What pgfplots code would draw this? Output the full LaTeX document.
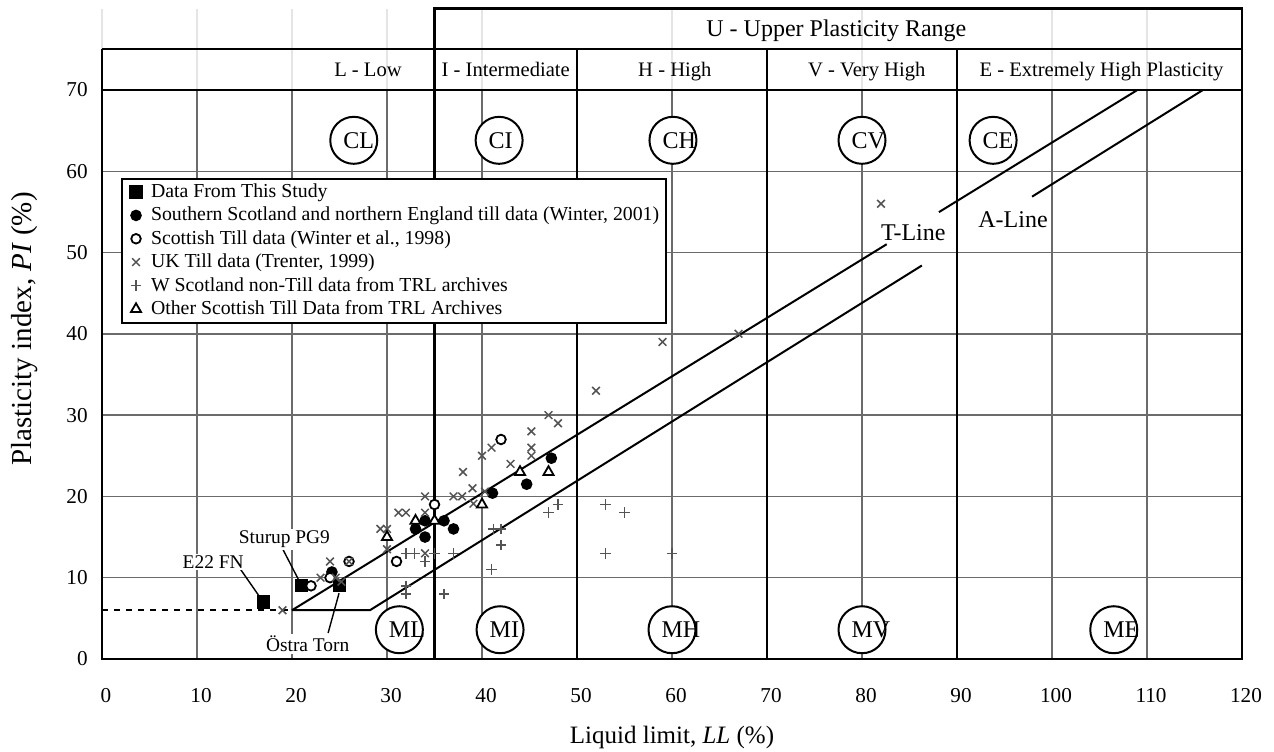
\documentclass[border=0pt]{standalone}
\usepackage{fontspec}
\setmainfont{Liberation Serif}
\usepackage{pgfplots}
\pgfplotsset{compat=1.18}
\definecolor{gridc}{gray}{0.42}
\definecolor{markc}{gray}{0.33}
\pgfplotsset{
 lgimg/.style={legend image code/.code={\path[draw=none, fill=none] (-4pt,0pt) -- (7pt,0pt); \draw[##1, only marks] plot coordinates {(0pt,0pt)};}},
 sq/.style={only marks, mark=square*, mark size=3pt, black, line width=0.6pt, lgimg},
 fc/.style={only marks, mark=*, mark size=2.6pt, black, line width=0.6pt, lgimg},
 oc/.style={only marks, mark=*, mark size=2.4pt, black, line width=0.9pt, mark options={fill=white, draw=black}, lgimg},
 xm/.style={only marks, mark=x, mark size=2.7pt, markc, line width=0.75pt, lgimg},
 pm/.style={only marks, mark=+, mark size=2.6pt, markc, line width=0.75pt, lgimg},
 tm/.style={only marks, mark=triangle*, mark size=2.9pt, black, line width=0.9pt, mark options={fill=white, draw=black}, lgimg},
}
\newcommand{\cls}[3]{%
 \draw[black, line width=1pt, fill=white] (axis cs:#1,#2) circle[radius=11.75pt];
 \node[anchor=base west, inner sep=0pt, xshift=-5.4pt, yshift=-3.95pt, font=\fontsize{12}{14}\selectfont] at (axis cs:#1,#2) {#3};}
\begin{document}
\begin{tikzpicture}
\begin{axis}[
 scale only axis, width=570pt, height=325.2pt,
 xmin=0, xmax=120, ymin=0, ymax=80,
 clip=false,
 axis line style={draw=none},
 xtick={0,10,...,120}, ytick={0,10,...,70},
 major tick length=0pt,
 /pgf/number format/assume math mode=true,
 ticklabel style={font=\fontsize{10.6}{12}\selectfont},
 xticklabel style={anchor=north, inner sep=0pt, yshift=-14.5pt, xshift=2pt},
 yticklabel style={anchor=east, inner sep=0pt, xshift=-7pt},
 legend style={at={(axis cs:2,59.2)}, anchor=north west, draw=black, line width=1pt, fill=white,
   font=\fontsize{9.9}{11}\selectfont, inner xsep=3pt, inner ysep=2pt, row sep=2.3pt,
   nodes={inner sep=0.5pt}, cells={anchor=west}},
]
% bounding box helpers
\coordinate (BBLL) at (axis cs:-10.74,-11.32);
\coordinate (BBUR) at (axis cs:123.37,81.06);
% faint header grid
\pgfplotsinvokeforeach{0,10,20,30,40,60,80,100,110}{\draw[black!10, line width=0.6pt] (axis cs:#1,70) -- (axis cs:#1,80);}
% grid
\pgfplotsinvokeforeach{10,20,30,40,60,80,100,110}{\draw[gridc, line width=0.7pt] (axis cs:#1,0) -- (axis cs:#1,70);}
\pgfplotsinvokeforeach{10,20,30,40,50,60}{\draw[gridc, line width=0.7pt] (axis cs:0,#1) -- (axis cs:120,#1);}
% frame
\draw[black, line width=1.2pt] (axis cs:0,75) -- (axis cs:0,0) -- (axis cs:120,0) -- (axis cs:120,80) -- (axis cs:35,80) -- (axis cs:35,0);
\draw[black, line width=1.1pt] (axis cs:0,70) -- (axis cs:120,70);
\draw[black, line width=1.1pt] (axis cs:0,75) -- (axis cs:120,75);
\pgfplotsinvokeforeach{50,70,90}{\draw[black, line width=1.2pt] (axis cs:#1,0) -- (axis cs:#1,75);}
% header labels
\node[anchor=base, font=\fontsize{10.3}{12}\selectfont] at (axis cs:28,71.7) {L - Low};
\node[anchor=base, font=\fontsize{10.3}{12}\selectfont] at (axis cs:42.5,71.7) {I - Intermediate};
\node[anchor=base, font=\fontsize{10.3}{12}\selectfont] at (axis cs:60.3,71.7) {H - High};
\node[anchor=base, font=\fontsize{10.3}{12}\selectfont] at (axis cs:80.5,71.7) {V - Very High};
\node[anchor=base, font=\fontsize{10.3}{12}\selectfont] at (axis cs:105.2,71.7) {E - Extremely High Plasticity};
\node[anchor=base, font=\fontsize{12}{14}\selectfont] at (axis cs:77.3,76.55) {U - Upper Plasticity Range};
% T-line and A-line
\addplot[black, line width=1pt, dash pattern=on 3pt off 3pt, forget plot] coordinates {(0,6) (20,6)};
\addplot[black, line width=1pt, forget plot] coordinates {(20,6) (82.6,51.02)};
\addplot[black, line width=1pt, forget plot] coordinates {(88.1,54.97) (109,70)};
\addplot[black, line width=1pt, forget plot] coordinates {(20,6) (28.2,6) (86.3,48.4)};
\addplot[black, line width=1pt, forget plot] coordinates {(97.9,56.87) (115.9,70)};
\node[anchor=base, font=\fontsize{12}{14}\selectfont] at (axis cs:85.4,51.5) {T-Line};
\node[anchor=base, font=\fontsize{12}{14}\selectfont] at (axis cs:95.9,53.05) {A-Line};
% classification circles
\cls{26.5}{63.8}{CL}
\cls{41.8}{63.8}{CI}
\cls{60.1}{63.8}{CH}
\cls{80}{63.8}{CV}
\cls{93.8}{63.8}{CE}
\cls{31.3}{3.6}{ML}
\cls{41.9}{3.6}{MI}
\cls{60}{3.6}{MH}
\cls{80}{3.6}{MV}
\cls{106.5}{3.6}{ME}
% data
\addplot[sq] coordinates {(17,7) (21,9) (25,9)};
\addlegendentry{Data From This Study}
\addplot[fc] coordinates {(24.2,10.7) (33,16) (34,17) (34,15) (36,17) (37,16) (41.1,20.4) (44.7,21.5) (47.3,24.7)};
\addlegendentry{Southern Scotland and northern England till data (Winter, 2001)}
\addplot[oc] coordinates {(22,9) (24,10) (26,12) (31,12) (35,19) (42,27)};
\addlegendentry{Scottish Till data (Winter et al., 1998)}
\addplot[xm] coordinates {(19,6) (23,10) (24.6,10) (25.2,9.5) (24,12) (26,12) (29.3,16) (30,16) (30,13.5) (31.2,18) (32,18) (34,20) (34,18) (34,13) (37,20) (37.9,20) (39.1,19.1) (38,23) (39,21) (40.3,20.6) (40,25) (41,26) (43,24) (45.2,28) (45.2,26) (45.2,25) (47,30) (48,29) (52,33) (59,39) (67,40) (82,56)};
\addlegendentry{UK Till data (Trenter, 1999)}
\addplot[pm] coordinates {(32,13) (32.9,13) (35,13) (37,13) (34,12) (32,9) (32,8) (36,8) (41.2,16) (42,16) (42,14) (41,11) (47,18) (48,19) (53,19) (55,18) (53,13) (60,13)};
\addlegendentry{W Scotland non-Till data from TRL archives}
\addplot[tm] coordinates {(30,15) (33,17) (35,17) (40,19) (44,23) (47,23)};
\addlegendentry{Other Scottish Till Data from TRL Archives}
% annotations
\draw[black, line width=0.7pt] (axis cs:14.0,12.0) -- (axis cs:16.8,7.3);
\draw[black, line width=0.7pt] (axis cs:18.9,13.8) -- (axis cs:20.8,9.5);
\draw[black, line width=0.7pt] (axis cs:23.8,3.2) -- (axis cs:24.95,8.1);
\node[anchor=base, fill=white, inner sep=1pt, font=\fontsize{9.7}{11}\selectfont] at (axis cs:11.7,11.15) {E22 FN};
\node[anchor=base, fill=white, inner sep=1pt, font=\fontsize{9.7}{11}\selectfont] at (axis cs:19.2,14.2) {Sturup PG9};
\node[anchor=base, fill=white, inner sep=1pt, font=\fontsize{9.7}{11}\selectfont] at (axis cs:21.65,0.9) {Östra Torn};
% axis labels
\node[anchor=base, font=\fontsize{12.5}{14}\selectfont] at (axis cs:60,-10.45) {Liquid limit, \textit{LL} (\%)};
\node[rotate=90, anchor=center, font=\fontsize{14.5}{16}\selectfont] at (axis cs:-8.2,40.6) {Plasticity index, \textit{PI} (\%)};
\end{axis}
\pgfresetboundingbox
\path[use as bounding box] (BBLL) rectangle (BBUR);
\end{tikzpicture}
\end{document}
